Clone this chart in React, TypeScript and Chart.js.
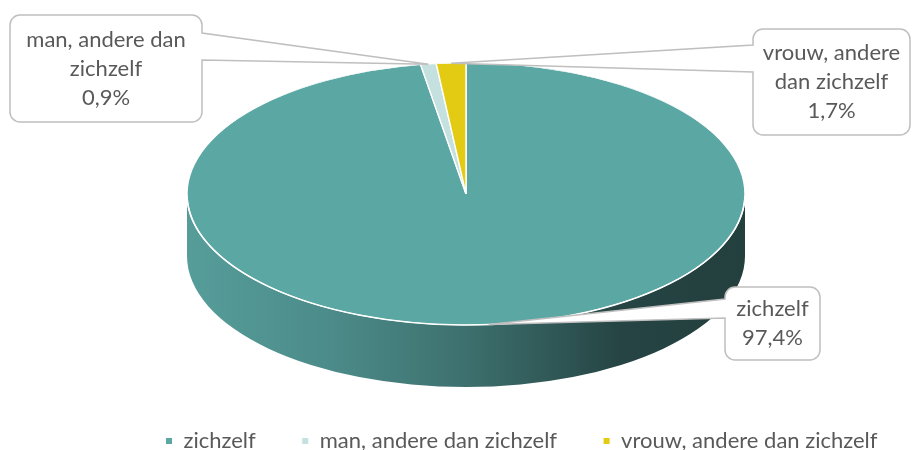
import React, { useEffect, useRef } from "react";
import { Chart, registerables } from "chart.js";

Chart.register(...registerables);

// ---- data ----
const categories = ["zichzelf", "man, andere dan zichzelf", "vrouw, andere dan zichzelf"];
const percentages = [97.4, 0.9, 1.7];
const sliceColors = ["#5BA7A4", "#C4E1DF", "#E2CB12"];

// ---- style / layout ----
const FONT = "Lato, 'Open Sans', sans-serif";
const FONT_SIZE = 22;
const TEXT = "#595959";
const BORDER = "#BFBFBF";
const PIE = { cx: 466, cy: 194, rx: 279, ry: 131, depth: 62 };
// callout boxes per slice index: [x0, y0, x1, y1], side with wedge, wedge base y's, max text width
const CALLOUTS = [
  { box: [725, 287, 820, 360], side: "left", wedge: [299, 318], maxW: 90 },
  { box: [10, 15, 202, 122], side: "right", wedge: [33, 60], maxW: 182 },
  { box: [753, 29, 910, 135], side: "left", wedge: [45, 72], maxW: 152 },
];
const LINE_H = 29;

function hexToRgb(h: string) {
  const n = parseInt(h.slice(1), 16);
  return [(n >> 16) & 255, (n >> 8) & 255, n & 255];
}
function shade(h: string, f: number) {
  const [r, g, b] = hexToRgb(h);
  return `rgb(${Math.round(r * f)},${Math.round(g * f)},${Math.round(b * f)})`;
}

function wrap(ctx: CanvasRenderingContext2D, text: string, maxW: number) {
  const words = text.split(" ");
  const lines: string[] = [];
  let cur = "";
  for (const w of words) {
    const t = cur ? cur + " " + w : w;
    if (cur && ctx.measureText(t).width > maxW) {
      lines.push(cur);
      cur = w;
    } else cur = t;
  }
  if (cur) lines.push(cur);
  return lines;
}

function calloutPath(
  ctx: CanvasRenderingContext2D,
  b: number[],
  r: number,
  side: string,
  w: number[],
  tx: number,
  ty: number
) {
  const [x0, y0, x1, y1] = b;
  ctx.beginPath();
  ctx.moveTo(x0 + r, y0);
  ctx.lineTo(x1 - r, y0);
  ctx.arcTo(x1, y0, x1, y0 + r, r);
  if (side === "right") {
    ctx.lineTo(x1, w[0]);
    ctx.lineTo(tx, ty);
    ctx.lineTo(x1, w[1]);
  }
  ctx.lineTo(x1, y1 - r);
  ctx.arcTo(x1, y1, x1 - r, y1, r);
  ctx.lineTo(x0 + r, y1);
  ctx.arcTo(x0, y1, x0, y1 - r, r);
  if (side === "left") {
    ctx.lineTo(x0, w[1]);
    ctx.lineTo(tx, ty);
    ctx.lineTo(x0, w[0]);
  }
  ctx.lineTo(x0, y0 + r);
  ctx.arcTo(x0, y0, x0 + r, y0, r);
  ctx.closePath();
}

const pie3d = {
  id: "pie3d",
  beforeDatasetsDraw(chart: any) {
    const ctx: CanvasRenderingContext2D = chart.ctx;
    const meta = chart.getDatasetMeta(0);
    // side wall: visible for canvas angles in [0, PI]
    meta.data.forEach((arc: any, i: number) => {
      const s = arc.startAngle;
      const e = arc.endAngle;
      const ranges: number[][] = [];
      for (const off of [0, 2 * Math.PI, -2 * Math.PI]) {
        const a = Math.max(s + off, 0);
        const b = Math.min(e + off, Math.PI);
        if (b > a) ranges.push([a, b]);
      }
      const col = sliceColors[i];
      for (const [a, b] of ranges) {
        const g = ctx.createLinearGradient(PIE.cx - PIE.rx, 0, PIE.cx + PIE.rx, 0);
        g.addColorStop(0, shade(col, 0.94));
        g.addColorStop(0.25, shade(col, 0.84));
        g.addColorStop(0.5, shade(col, 0.67));
        g.addColorStop(0.78, shade(col, 0.41));
        g.addColorStop(1, shade(col, 0.38));
        ctx.save();
        ctx.beginPath();
        ctx.ellipse(PIE.cx, PIE.cy, PIE.rx, PIE.ry, 0, a, b, false);
        ctx.ellipse(PIE.cx, PIE.cy + PIE.depth, PIE.rx, PIE.ry, 0, b, a, true);
        ctx.closePath();
        ctx.fillStyle = g;
        ctx.fill();
        ctx.restore();
      }
    });
    const ref = meta.data[0];
    ctx.save();
    ctx.translate(PIE.cx, PIE.cy);
    ctx.scale(PIE.rx / ref.outerRadius, PIE.ry / ref.outerRadius);
    ctx.translate(-ref.x, -ref.y);
  },
  afterDatasetsDraw(chart: any) {
    const ctx: CanvasRenderingContext2D = chart.ctx;
    ctx.restore();
    ctx.save();
    ctx.beginPath();
    ctx.ellipse(PIE.cx, PIE.cy, PIE.rx, PIE.ry, 0, 0.02, Math.PI - 0.02, false);
    ctx.strokeStyle = "#FFFFFF";
    ctx.lineWidth = 1.5;
    ctx.stroke();
    ctx.restore();
  },
  afterDraw(chart: any) {
    const ctx: CanvasRenderingContext2D = chart.ctx;
    const meta = chart.getDatasetMeta(0);
    ctx.save();
    ctx.font = `${FONT_SIZE}px ${FONT}`;
    meta.data.forEach((arc: any, i: number) => {
      const c = CALLOUTS[i];
      if (!c) return;
      const mid = (arc.startAngle + arc.endAngle) / 2;
      const tx = PIE.cx + PIE.rx * Math.cos(mid);
      const ty = PIE.cy + PIE.ry * Math.sin(mid);
      calloutPath(ctx, c.box, 10, c.side, c.wedge, tx, ty);
      ctx.fillStyle = "#FFFFFF";
      ctx.fill();
      ctx.strokeStyle = BORDER;
      ctx.lineWidth = 1.5;
      ctx.stroke();
      const lines = wrap(ctx, categories[i], c.maxW);
      lines.push(percentages[i].toFixed(1).replace(".", ",") + "%");
      const [x0, y0, x1, y1] = c.box;
      const xc = (x0 + x1) / 2;
      const yc = (y0 + y1) / 2;
      ctx.fillStyle = TEXT;
      ctx.textAlign = "center";
      ctx.textBaseline = "middle";
      lines.forEach((ln, k) => {
        ctx.fillText(ln, xc, yc + (k - (lines.length - 1) / 2) * LINE_H);
      });
    });
    ctx.restore();
  },
};

export default function App() {
  const ref = useRef<HTMLCanvasElement>(null);
  useEffect(() => {
    if (!ref.current) return;
    const chart = new Chart(ref.current, {
      type: "pie",
      data: {
        labels: categories,
        datasets: [
          {
            data: percentages,
            backgroundColor: sliceColors,
            borderColor: "#FFFFFF",
            borderWidth: 1,
          },
        ],
      },
      options: {
        responsive: false,
        animation: false,
        devicePixelRatio: 1,
        events: [],
        layout: { padding: { left: 0, right: -130, top: 0, bottom: -12 } },
        plugins: {
          tooltip: { enabled: false },
          legend: {
            position: "bottom",
            align: "center",
            labels: {
              boxWidth: 7,
              boxHeight: 7,
              padding: 46,
              color: TEXT,
              font: { family: FONT, size: FONT_SIZE },
            },
          },
        },
      } as any,
      plugins: [pie3d as any],
    });
    return () => chart.destroy();
  }, []);
  return (
    <div style={{ position: "absolute", left: 0, top: 0, width: 913, height: 450, background: "#FFFFFF" }}>
      <canvas ref={ref} width={913} height={450} />
    </div>
  );
}
